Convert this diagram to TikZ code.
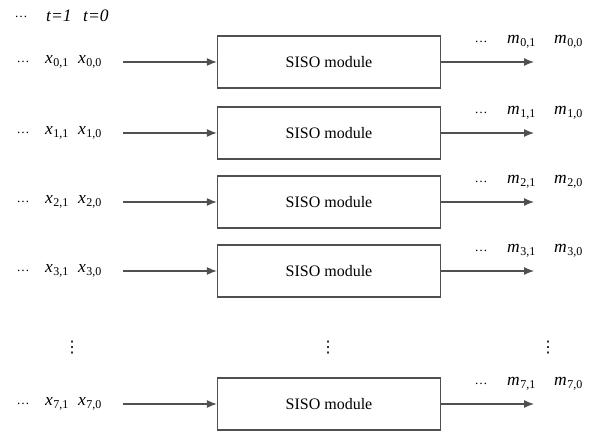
\documentclass[tikz,border=0pt]{standalone}
\usepackage{fontspec}
\setmainfont{Liberation Serif}
\newfontfamily\symfont{DejaVu Sans}
\usetikzlibrary{arrows.meta}
\definecolor{linegray}{HTML}{505050}
\newcommand\sub[2]{\textit{#1}\kern0.5pt\raisebox{-0.35ex}{\fontsize{12}{12}\selectfont #2}}
\tikzset{
  sisobox/.style={draw=linegray, line width=1.3pt, minimum width=223pt, minimum height=52pt, inner sep=0pt, font=\fontsize{16}{16}\selectfont},
  arr/.style={draw=linegray, line width=1.2pt, -{Latex[length=10pt,width=8pt]}},
  lbl/.style={inner sep=0pt, anchor=west, font=\fontsize{17.5}{17.5}\selectfont},
  hdots/.style={inner sep=0pt, font=\fontsize{13}{13}\selectfont},
  vd/.style={inner sep=0pt, font=\symfont\fontsize{16}{16}\selectfont}
}
\begin{document}
\begin{tikzpicture}[x=1pt,y=-1pt]
\useasboundingbox (0,0) rectangle (597,435);
% header
\node[hdots] (td) at (21,17) {…};
\node[lbl] (t1) at (46,16) {\textit{t=1}};
\node[lbl] (t0) at (83,16) {\textit{t=0}};
% rows
\foreach \i/\y in {0/62,1/133,2/202,3/271,7/404}{
  \node[sisobox] (b\i) at (329,\y) {SISO module};
  \node[hdots] (ld\i) at (23,\y) {…};
  \node[lbl] (xa\i) at (45,\y) {\sub{x}{\i,1}};
  \node[lbl] (xb\i) at (78,\y) {\sub{x}{\i,0}};
  \coordinate (in\i) at (123,\y);
  \coordinate (out\i) at (534,\y);
  \draw[arr] (in\i) -- (b\i.west);
  \draw[arr] (b\i.east) -- (out\i);
  \node[hdots] (rd\i) at (481,\y-20) {…};
  \node[lbl] (ma\i) at (507,\y-20) {\sub{m}{\i,1}};
  \node[lbl] (mb\i) at (554,\y-20) {\sub{m}{\i,0}};
}
% vertical dots
\node[vd] (v1) at (72,348) {⋮};
\node[vd] (v2) at (328,348) {⋮};
\node[vd] (v3) at (548,348) {⋮};
\end{tikzpicture}
\end{document}
